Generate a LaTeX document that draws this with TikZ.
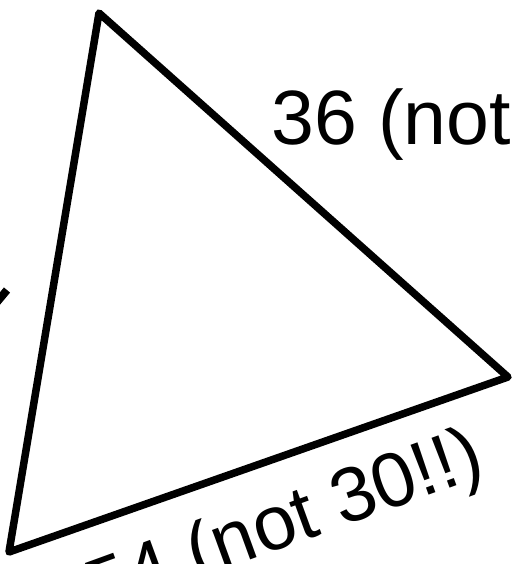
\documentclass[tikz,border=0pt]{standalone}
\usepackage{fontspec}
\setmainfont{Liberation Sans}

\tikzstyle{edge} = [draw, line width=7.5pt, line join=round]
\tikzstyle{every node}=[font=\fontsize{77}{84}\selectfont, inner sep=0pt]

\begin{document}
\begin{tikzpicture}[x=1pt, y=-1pt]
	\useasboundingbox (0,0) rectangle (529,564);
	\coordinate (apex) at (99,13);
	\coordinate (right) at (508,377);
	\coordinate (low) at (9,552);
	\draw[edge] (apex) -- (right) -- (low) -- cycle;
	\node[anchor=base west] (top label) at (271,145) {36 (not};
	\node[anchor=base west, rotate=20] (bottom label) at (97,616) {54 (not 30!!)};
	% stray mark on the left
	\coordinate (m1) at (7,290);
	\coordinate (m2) at (-3,302);
	\draw[line width=8pt] (m1) -- (m2);
\end{tikzpicture}
\end{document}
